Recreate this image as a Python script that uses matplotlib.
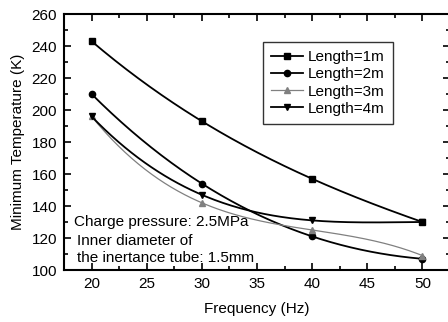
import numpy as np
import matplotlib
matplotlib.use('Agg')
from matplotlib import pyplot as plt
from matplotlib.ticker import MultipleLocator

plt.rcParams['font.family'] = ['Liberation Sans', 'DejaVu Sans']

freq = [20, 30, 40, 50]
len_1m = [243, 193, 157, 130]
len_2m = [210, 154, 121, 107]
len_3m = [196, 142, 125, 109]
len_4m = [196, 147, 131, 130]

labels = ['Length=1m', 'Length=2m', 'Length=3m', 'Length=4m']
markers = ['s', 'o', '^', 'v']
colors = ['black', 'black', '#808080', 'black']


def smooth(x, y):
	# smooth curve through the measured points (like the original spline)
	c = np.polyfit(x, y, len(x) - 1)
	xs = np.linspace(min(x), max(x), 200)
	return xs, np.polyval(c, xs)


fig = plt.figure(figsize=(4.48, 3.22), dpi=100)
ax = fig.add_axes([64/448, 52/322, 386/448, 256/322])

for ys, lab, m, col in zip([len_1m, len_2m, len_3m, len_4m], labels, markers, colors):
	xs, yy = smooth(freq, ys)
	lw = 0.9 if col != 'black' else 1.3
	ax.plot(xs, yy, color=col, lw=lw)
	ax.plot(freq, ys, ls='none', marker=m, color=col, ms=4.5)
	ax.plot([], [], color=col, lw=lw, marker=m, ms=4.5, label=lab)

ax.set_xlim(17.5, 52.5)
ax.set_ylim(100, 260)
ax.xaxis.set_major_locator(MultipleLocator(5))
ax.xaxis.set_minor_locator(MultipleLocator(2.5))
ax.yaxis.set_major_locator(MultipleLocator(20))
ax.yaxis.set_minor_locator(MultipleLocator(10))
ax.tick_params(which='both', direction='in', top=True, right=True, width=1.2, labelsize=11)
ax.tick_params(which='major', length=5, pad=5)
ax.tick_params(which='minor', length=3)
for s in ax.spines.values():
	s.set_linewidth(1.5)

ax.set_xlabel('Frequency (Hz)', fontsize=11, labelpad=8)
ax.set_ylabel('Minimum Temperature (K)', fontsize=11, labelpad=5)

ax.text(18.4, 130, 'Charge pressure: 2.5MPa', fontsize=11, va='center')
ax.text(18.7, 118, 'Inner diameter of', fontsize=11, va='center')
ax.text(18.7, 107.5, 'the inertance tube: 1.5mm', fontsize=11, va='center')

leg = ax.legend(loc='upper left', bbox_to_anchor=(199/386, 1 - 28/256), frameon=True,
				fancybox=False, edgecolor='black', fontsize=11, handlelength=2.1,
				handletextpad=0.3, labelspacing=0.2, borderpad=0.55, borderaxespad=0)
leg.get_frame().set_linewidth(1.0)

fig.savefig('out.png', dpi=100)
